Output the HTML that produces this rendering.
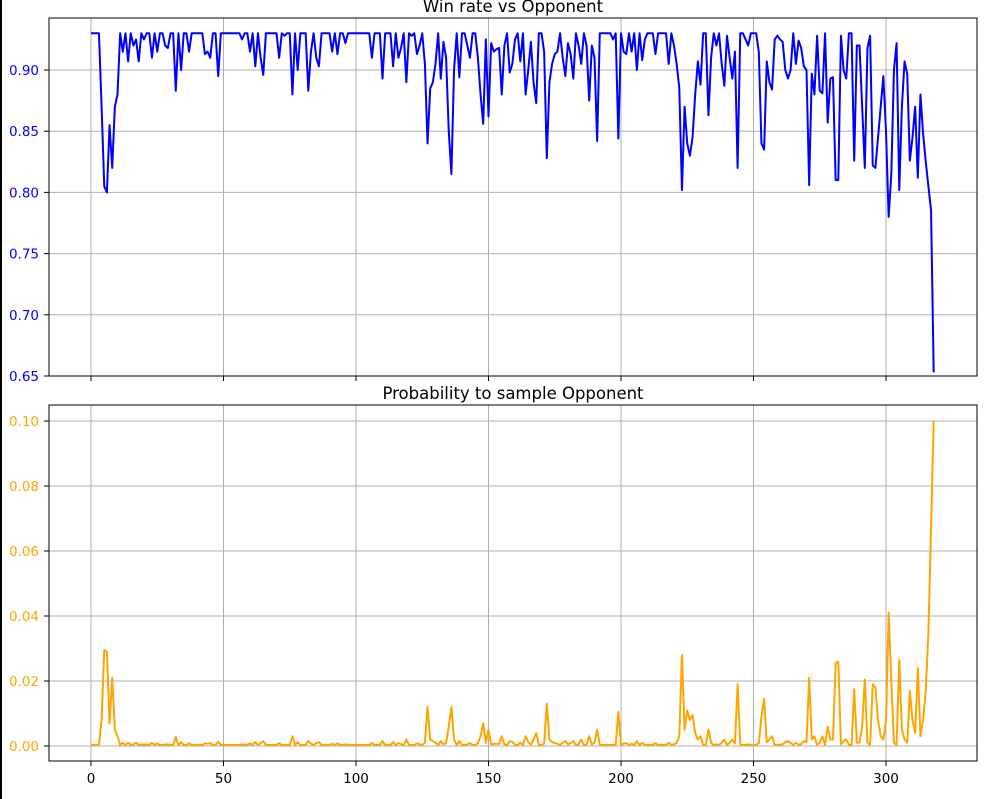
<!DOCTYPE html>
<html><head><meta charset="utf-8"><style>
html,body{margin:0;padding:0;background:#fff;}
svg{display:block;font-family:"DejaVu Sans","Liberation Sans",sans-serif;}
</style></head><body>
<svg id="chart" width="997" height="799" viewBox="0 0 997 799" xmlns="http://www.w3.org/2000/svg">
<rect x="0" y="0" width="2" height="799" fill="#000"/>
<g id="top"></g>
<g id="bot"></g>
</svg>
<script>
const winRate = [
.93,.93,.93,.93,.87,.805,.80,.855,.82,.87,
.88,.93,.915,.93,.907,.93,.92,.925,.907,.93,
.925,.93,.93,.91,.93,.915,.93,.93,.92,.918,
.93,.93,.883,.93,.90,.93,.93,.915,.93,.93,
.93,.93,.93,.913,.915,.91,.93,.93,.895,.93,
.93,.93,.93,.93,.93,.93,.93,.925,.93,.93,
.915,.93,.903,.93,.91,.896,.93,.93,.93,.93,
.93,.91,.93,.928,.93,.93,.88,.93,.90,.93,
.93,.93,.883,.915,.93,.91,.903,.93,.93,.93,
.93,.915,.93,.913,.93,.93,.922,.93,.93,.93,
.93,.93,.93,.93,.93,.93,.91,.93,.93,.93,
.893,.93,.93,.93,.903,.93,.91,.918,.93,.89,
.93,.928,.93,.913,.92,.93,.905,.84,.885,.89,
.905,.93,.893,.923,.91,.85,.815,.90,.93,.894,
.93,.93,.92,.91,.93,.93,.91,.88,.856,.925,
.862,.922,.915,.917,.918,.88,.92,.93,.898,.905,
.925,.93,.907,.93,.88,.90,.923,.89,.873,.93,
.93,.915,.828,.89,.905,.913,.915,.93,.91,.895,
.922,.913,.893,.93,.92,.905,.93,.92,.875,.92,
.91,.842,.93,.93,.93,.93,.93,.925,.93,.844,
.93,.915,.913,.93,.915,.93,.90,.93,.908,.925,
.93,.93,.93,.913,.93,.93,.93,.93,.905,.93,
.92,.905,.885,.802,.87,.84,.83,.845,.88,.907,
.888,.93,.93,.863,.91,.93,.92,.93,.905,.887,
.928,.91,.893,.915,.82,.93,.93,.925,.92,.93,
.93,.93,.915,.84,.835,.907,.89,.884,.925,.928,
.925,.923,.90,.893,.90,.93,.905,.924,.918,.903,
.90,.806,.897,.88,.928,.883,.881,.93,.857,.893,
.894,.81,.81,.928,.90,.893,.93,.93,.826,.92,
.92,.87,.82,.918,.928,.822,.82,.845,.87,.895,
.85,.78,.815,.90,.922,.802,.87,.907,.897,.826,
.845,.87,.812,.88,.848,.825,.805,.785,.653];
const sampleProb = [
.0003,.0003,.0003,.0003,.008,.0295,.029,.007,.021,.005,
.003,.0003,.001,.0003,.001,.0003,.0005,.001,.0003,.0005,
.0003,.0005,.0003,.001,.0003,.0008,.0003,.0003,.0005,.0005,
.0003,.0003,.0028,.0003,.0012,.0003,.0003,.0008,.0003,.0003,
.0003,.0003,.0003,.0008,.0007,.0009,.0003,.0003,.0013,.0003,
.0003,.0003,.0003,.0003,.0003,.0003,.0003,.0005,.0003,.0003,
.0008,.0003,.0012,.0003,.0009,.0015,.0003,.0003,.0003,.0003,
.0003,.0009,.0003,.0003,.0003,.0003,.003,.0003,.0012,.0003,
.0003,.0003,.0015,.0007,.0003,.0009,.0012,.0003,.0003,.0003,
.0003,.0007,.0003,.0008,.0003,.0003,.0005,.0003,.0003,.0003,
.0003,.0003,.0003,.0003,.0003,.0003,.0009,.0003,.0003,.0003,
.0015,.0003,.0003,.0003,.0012,.0003,.0009,.0006,.0003,.002,
.0003,.0003,.0003,.0008,.0005,.0003,.001,.012,.002,.0015,
.001,.0003,.0015,.0005,.0009,.006,.012,.002,.0003,.0015,
.0003,.0003,.0005,.0009,.0003,.0003,.0009,.003,.007,.001,
.005,.0005,.0007,.0007,.0006,.003,.0005,.0003,.0015,.0012,
.0004,.0003,.001,.0003,.003,.0012,.0004,.002,.004,.0003,
.0003,.0007,.013,.002,.0012,.0009,.0007,.0003,.001,.0015,
.0005,.0009,.0015,.0003,.0005,.002,.0003,.0005,.003,.0005,
.001,.005,.0003,.0003,.0003,.0003,.0003,.0004,.0003,.0105,
.0003,.0007,.0009,.0003,.0007,.0003,.0015,.0003,.001,.0004,
.0003,.0003,.0003,.0009,.0003,.0003,.0003,.0003,.001,.0003,
.0005,.001,.003,.028,.005,.011,.008,.0095,.004,.002,
.003,.0003,.0003,.005,.001,.0003,.0005,.0003,.001,.002,
.0003,.001,.002,.0008,.019,.0005,.0003,.0004,.0005,.0003,
.0003,.0003,.0008,.009,.0145,.0012,.002,.003,.0004,.0003,
.0004,.0005,.0012,.0015,.001,.0003,.001,.0004,.0006,.0015,
.0012,.021,.002,.003,.0003,.001,.003,.0003,.006,.002,
.002,.0255,.026,.0005,.0015,.002,.0003,.0003,.0175,.001,
.001,.006,.0205,.001,.0004,.019,.018,.008,.003,.002,
.008,.041,.02,.001,.0003,.0265,.005,.002,.001,.017,
.008,.004,.024,.003,.008,.017,.035,.067,.10];
const xTicks = [0,50,100,150,200,250,300];
const topTicks = [0.65,0.70,0.75,0.80,0.85,0.90];
const botTicks = [0.00,0.02,0.04,0.06,0.08,0.10];

const NS="http://www.w3.org/2000/svg";
const L=49,R=977;
const xs=v=>91+v*2.65;
const ysTop=v=>376-(v-0.65)/0.05*61.2;
const ysBot=v=>746-v*3250;
function mk(p,tag,at){const e=document.createElementNS(NS,tag);for(const k in at)e.setAttribute(k,at[k]);p.appendChild(e);return e;}

function panel(g,T,B,yTicks,ys,fmt,col,data,title,showX,prefix){
  const t=mk(g,'text',{x:513,y:T-6,'text-anchor':'middle','font-size':16.5,fill:'#000'});
  t.textContent=title;
  
  
  xTicks.forEach(v=>{
    const x=xs(v);
    const gl=mk(g,'line',{x1:x,x2:x,y1:T,y2:B,stroke:'#b0b0b0','stroke-width':1});
    
    
    mk(g,'line',{x1:x,x2:x,y1:B,y2:B+5,stroke:'#000','stroke-width':1});
    if(showX){
      const lb=mk(g,'text',{x:x,y:B+22,'text-anchor':'middle','font-size':13.5,fill:'#000'});
      lb.textContent=v;
      
      
    }
  });
  yTicks.forEach(v=>{
    const y=ys(v);
    const gl=mk(g,'line',{x1:L,x2:R,y1:y,y2:y,stroke:'#b0b0b0','stroke-width':1});
    
    
    mk(g,'line',{x1:L-5,x2:L,y1:y,y2:y,stroke:'#000','stroke-width':1});
    const lb=mk(g,'text',{x:L-10,y:y+5,'text-anchor':'end','font-size':13.5,fill:col});
    lb.textContent=fmt(v);
    
    
  });
  const pts=data.map((v,i)=>xs(i).toFixed(2)+','+ys(v).toFixed(2)).join(' ');
  const pl=mk(g,'polyline',{points:pts,fill:'none',stroke:col,'stroke-width':2,'stroke-linejoin':'round'});
  
  
  const fr=mk(g,'rect',{x:L,y:T,width:R-L,height:B-T,fill:'none',stroke:'#000','stroke-width':1});
  
  
}
panel(document.getElementById('top'),18,376,topTicks,ysTop,v=>v.toFixed(2),'#0000ff',winRate,'Win rate vs Opponent',false,'win-rate');
panel(document.getElementById('bot'),405,761,botTicks,ysBot,v=>v.toFixed(2),'#ffa500',sampleProb,'Probability to sample Opponent',true,'probability');
</script>
</body></html>
